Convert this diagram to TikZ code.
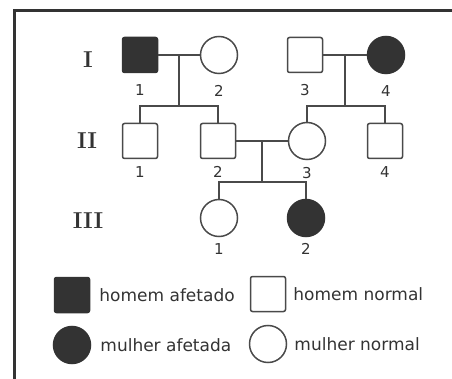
\documentclass[tikz,border=0pt]{standalone}
\usepackage{fontspec}
\newfontfamily\legfont{DejaVu Sans}
\usetikzlibrary{positioning}
\definecolor{linegray}{HTML}{4A4A4A}
\definecolor{darkfill}{HTML}{333333}
\tikzset{
  homem/.style={rectangle, draw=linegray, line width=1.5pt, minimum size=35pt, rounded corners=2pt, fill=white, inner sep=0pt},
  mulher/.style={circle, draw=linegray, line width=1.5pt, minimum size=37pt, fill=white, inner sep=0pt},
  afetado/.style={fill=darkfill, draw=darkfill},
  link/.style={draw=linegray, line width=1.6pt},
  num/.style={font=\legfont\fontsize{15}{15}\selectfont, text=darkfill, inner sep=1pt},
  geracao/.style={font=\bfseries\fontsize{23}{23}\selectfont, text=darkfill},
  legenda/.style={font=\legfont\fontsize{17}{17}\selectfont, text=darkfill, inner sep=1pt, anchor=west}
}
\begin{document}
\begin{tikzpicture}[x=1pt,y=-1pt]
  \clip (0,0) rectangle (452,379);
  \draw[darkfill, line width=3pt] (14,400) -- (14,11) -- (470,11);

  % geracao I
  \node[homem, afetado] (i1) at (140,55) {};
  \node[mulher] (i2) at (219,55) {};
  \node[homem] (i3) at (305,55) {};
  \node[mulher, afetado] (i4) at (386,55) {};
  % geracao II
  \node[homem] (ii1) at (140,141) {};
  \node[homem] (ii2) at (218,141) {};
  \node[mulher] (ii3) at (307,141) {};
  \node[homem] (ii4) at (385,141) {};
  % geracao III
  \node[mulher] (iii1) at (219,218) {};
  \node[mulher, afetado] (iii2) at (306,218) {};

  \node[geracao] (gI) at (88,60) {I};
  \node[geracao] (gII) at (87,141) {II};
  \node[geracao] (gIII) at (88,221) {III};

  \node[num, below=10pt of i1] (ni1) {1};
  \node[num, below=10pt of i2] (ni2) {2};
  \node[num, below=10pt of i3] (ni3) {3};
  \node[num, below=10pt of i4] (ni4) {4};
  \node[num, below=6pt of ii1] (nii1) {1};
  \node[num, below=6pt of ii2] (nii2) {2};
  \node[num, below=6pt of ii3] (nii3) {3};
  \node[num, below=6pt of ii4] (nii4) {4};
  \node[num, below=5pt of iii1] (niii1) {1};
  \node[num, below=5pt of iii2] (niii2) {2};

  % casais e filhos
  \path (i1) -- (i2) coordinate[midway] (m1);
  \path (i3) -- (i4) coordinate[midway] (m2);
  \path (ii2) -- (ii3) coordinate[midway] (m3);
  \coordinate[below=51pt of m1] (f1);
  \coordinate[below=51pt of m2] (f2);
  \coordinate[below=41pt of m3] (f3);

  \draw[link] (i1) -- (i2);
  \draw[link] (i3) -- (i4);
  \draw[link] (ii2) -- (ii3);
  \draw[link] (m1) -- (f1);
  \draw[link] (m2) -- (f2);
  \draw[link] (m3) -- (f3);
  \draw[link] (ii1.north) |- (f1) -| (ii2.north);
  \draw[link] (ii3.north) |- (f2) -| (ii4.north);
  \draw[link] (iii1.north) |- (f3) -| (iii2.north);

  % legenda
  \node[homem, afetado] (kha) at (72,295) {};
  \node[homem] (khn) at (268,294) {};
  \node[mulher, afetado] (kma) at (72,345) {};
  \node[mulher] (kmn) at (268,344) {};
  \node[legenda, right=8pt of kha] (tha) {homem afetado};
  \node[legenda, right=6pt of khn] (thn) {homem normal};
  \node[legenda, right=8pt of kma] (tma) {mulher afetada};
  \node[legenda, right=6pt of kmn] (tmn) {mulher normal};
\end{tikzpicture}
\end{document}
